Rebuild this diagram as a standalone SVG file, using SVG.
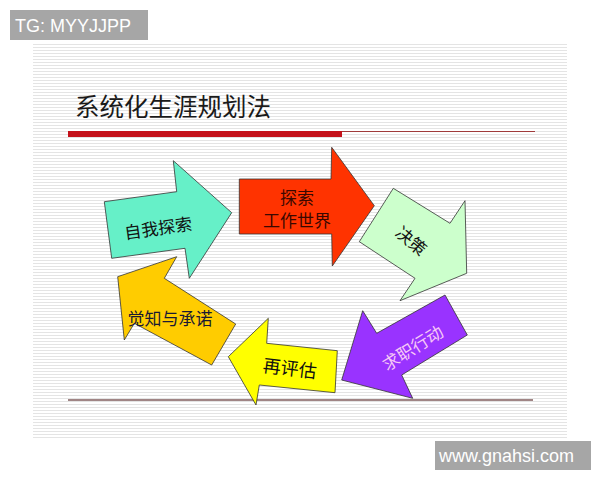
<svg xmlns="http://www.w3.org/2000/svg" width="600" height="480" viewBox="0 0 600 480">
<defs>
<pattern id="stripes" x="0" y="0" width="6" height="3" patternUnits="userSpaceOnUse">
<rect width="6" height="3" fill="#ffffff"/>
<rect y="2" width="6" height="1" fill="#e4e4e4"/>
</pattern>
</defs>
<style>
.arrow{stroke:#333333;stroke-width:0.8;stroke-linejoin:miter}
.lbl{font-family:"Noto Sans CJK SC","Noto Sans",sans-serif;font-size:17px;text-anchor:middle;dominant-baseline:central;fill:#111111}
.wm{font-family:"Liberation Sans",Arial,sans-serif;font-size:18px;fill:#ffffff}
</style>
<rect width="600" height="480" fill="#ffffff"/>
<rect x="33" y="42" width="534" height="396" fill="url(#stripes)"/>
<g id="title">
<text x="75" y="116" style="font-family:'Noto Sans CJK SC','Noto Sans',sans-serif;font-size:24.5px;fill:#1a1a1a">系统化生涯规划法</text>
<rect x="68" y="131" width="274" height="6" fill="#c4111a"/>
<line x1="342" y1="131.5" x2="535" y2="131.5" stroke="#a03a3a" stroke-width="1"/>
</g>
<line x1="68" y1="400" x2="533" y2="400" stroke="#a08585" stroke-width="2"/>
<g id="connectors"></g>
<g id="self-explore">
<polygon class="arrow" fill="#66f0c8" points="104.3,201.7 176.7,191.7 173.3,160.7 231.7,212.7 189.3,278.3 185,248.3 111.7,258.3"/>
<text class="lbl" transform="translate(158,227) rotate(-8)">自我探索</text>
</g>
<g id="explore-world">
<polygon class="arrow" fill="#ff3300" points="239.3,179 331,179 331.7,147.3 374.3,205.7 332.3,266 331.7,234 239.3,234"/>
<text class="lbl" x="297" y="196" style="fill:#3a0800">探索</text>
<text class="lbl" x="297" y="219" style="fill:#3a0800">工作世界</text>
</g>
<g id="decide">
<polygon class="arrow" fill="#ccffcc" points="393.3,188.3 450,223.3 465,200.7 466.7,273.3 400,300.7 415,278.3 359.3,241.7"/>
<text class="lbl" transform="translate(412,240) rotate(40)">决策</text>
</g>
<g id="job-action">
<polygon class="arrow" fill="#9933ff" points="445,295 467.3,335 401.7,375 412.7,398.3 341.7,380 362.7,310.7 376.7,333.3"/>
<text class="lbl" transform="translate(412,347) rotate(-32)" style="fill:#f6c8f6">求职行动</text>
</g>
<g id="reevaluate">
<polygon class="arrow" fill="#ffff00" points="337.3,350.7 335,392.7 259.3,385 256,405 228.3,356.7 268.3,318.3 266.7,343.3"/>
<text class="lbl" transform="translate(290,367) rotate(7)" style="font-size:18px">再评估</text>
</g>
<g id="awareness">
<polygon class="arrow" fill="#ffcc00" points="235.7,324 211.7,365 134.3,323.3 124.3,340 117.7,276.7 176.7,256.7 164.3,278.3"/>
<text class="lbl" x="170" y="317" style="fill:#1a1a33">觉知与承诺</text>
</g>
<g id="watermarks">
<rect x="10" y="10" width="138" height="30" fill="#a6a6a6"/>
<text class="wm" x="15" y="32">TG: MYYJJPP</text>
<rect x="435" y="441" width="156" height="29" fill="#a6a6a6"/>
<text class="wm" x="439" y="462">www.gnahsi.com</text>
</g>
</svg>
